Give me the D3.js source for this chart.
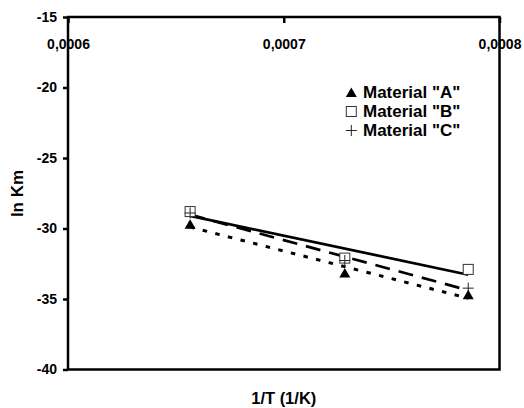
<!DOCTYPE html>
<html>
<head>
<meta charset="utf-8">
<script src="https://cdn.jsdelivr.net/npm/d3@7"></script>
<style>
  html, body { margin: 0; padding: 0; background: #fff; }
  svg { display: block; font-family: "Liberation Sans", Arial, sans-serif; font-weight: bold; }
</style>
</head>
<body>
<svg id="chart" width="524" height="408"></svg>
<script>
// ---- data ----
const invT = [0.0006566, 0.0007283, 0.0007855];      // 1/T (1/K)
const lnKmA = [-29.7, -33.15, -34.7];                 // Material "A"
const lnKmB = [-28.8, -32.1, -32.9];                  // Material "B"
const lnKmC = [-28.9, -32.27, -34.23];                // Material "C"
const seriesNames = ['Material "A"', 'Material "B"', 'Material "C"'];
const xTicks = [0.0006, 0.0007, 0.0008];
const yTicks = [-40, -35, -30, -25, -20, -15];
const xTitle = "1/T (1/K)";
const yTitle = "ln Km";

(function () {
// ---- layout ----
const svg = d3.select("#chart");
const pL = 68, pR = 499.5, pT = 17, pB = 369.5;
const x = d3.scaleLinear().domain([0.0006, 0.0008]).range([pL, pR]);
const y = d3.scaleLinear().domain([-40, -15]).range([pB, pT]);

// y axis
const yAxis = svg.append("g").attr("transform", `translate(${pL},0)`)
  .call(d3.axisLeft(y).tickValues(yTicks).tickSize(5).tickSizeOuter(0).tickPadding(6)
        .tickFormat(d => String(d)));
yAxis.attr("font-size", null).attr("font-family", null);
yAxis.select(".domain").remove();
yAxis.selectAll(".tick line").attr("stroke", "#000").attr("stroke-width", 2.5);
yAxis.selectAll(".tick text").style("font-size", "14px").style("font-weight", "bold")
  .attr("fill", "#000");

// top x axis (ticks point down, labels below the line)
const xAxis = svg.append("g").attr("transform", `translate(0,${pT})`)
  .call(d3.axisBottom(x).tickValues(xTicks).tickSize(6).tickSizeOuter(0).tickPadding(16)
        .tickFormat(d => d.toFixed(4).replace(".", ",")));
xAxis.attr("font-size", null).attr("font-family", null);
xAxis.select(".domain").remove();
xAxis.selectAll(".tick line").attr("stroke", "#000").attr("stroke-width", 2.5);
xAxis.selectAll(".tick text").style("font-size", "14px").style("font-weight", "bold")
  .attr("fill", "#000");

// frame
svg.append("rect").attr("x", pL).attr("y", pT)
  .attr("width", pR - pL).attr("height", pB - pT)
  .attr("fill", "none").attr("stroke", "#000").attr("stroke-width", 2.5);

// axis titles
svg.append("text").attr("x", (pL + pR) / 2).attr("y", 404)
  .attr("text-anchor", "middle").style("font-size", "16.5px").text(xTitle);
svg.append("text").attr("transform", "translate(23,193.5) rotate(-90)")
  .attr("text-anchor", "middle").style("font-size", "17px").text(yTitle);

// ---- trendlines (least squares fit of each series) ----
function fit(xs, ys) {
  const mx = d3.mean(xs), my = d3.mean(ys);
  let sxy = 0, sxx = 0;
  xs.forEach((v, i) => { sxy += (v - mx) * (ys[i] - my); sxx += (v - mx) * (v - mx); });
  const b = sxy / sxx, a = my - b * mx;
  return t => a + b * t;
}
const series = [
  { vals: lnKmA, dash: "4.5,8.5", width: 3, marker: "tri" },
  { vals: lnKmB, dash: null, width: 2.7, marker: "sq" },
  { vals: lnKmC, dash: "15,9", width: 2.7, marker: "plus" }
];
const line = d3.line().x(d => x(d[0])).y(d => y(d[1]));
const x0 = d3.min(invT), x1 = d3.max(invT);
series.forEach(s => {
  const f = fit(invT, s.vals);
  svg.append("path").datum([[x0, f(x0)], [x1, f(x1)]])
    .attr("d", line).attr("fill", "none").attr("stroke", "#000")
    .attr("stroke-width", s.width)
    .attr("stroke-dasharray", s.dash);
});

// ---- markers ----
function drawMarker(g, type, cx, cy) {
  if (type === "tri") {
    g.append("path").attr("d", `M${cx},${cy - 5} L${cx + 5.5},${cy + 4.5} L${cx - 5.5},${cy + 4.5} Z`)
      .attr("fill", "#000");
  } else if (type === "sq") {
    g.append("rect").attr("x", cx - 5).attr("y", cy - 5).attr("width", 10).attr("height", 10)
      .attr("fill", "#fff").attr("stroke", "#333").attr("stroke-width", 1);
  } else {
    g.append("path").attr("d", `M${cx - 5.5},${cy} H${cx + 5.5} M${cx},${cy - 5.5} V${cy + 5.5}`)
      .attr("stroke", "#222").attr("stroke-width", 1).attr("fill", "none");
  }
}
const mg = svg.append("g");
[1, 2, 0].forEach(si => {
  const s = series[si];
  invT.forEach((t, i) => drawMarker(mg, s.marker, x(t), y(s.vals[i])));
});

// ---- legend ----
const lg = svg.append("g");
seriesNames.forEach((name, i) => {
  const cy = 92.5 + i * 19;
  drawMarker(lg, series[i].marker, 351.3, cy);
  lg.append("text").attr("x", 363).attr("y", cy + 5)
    .style("font-size", "17px").text(name);
});
})();
</script>
</body>
</html>
